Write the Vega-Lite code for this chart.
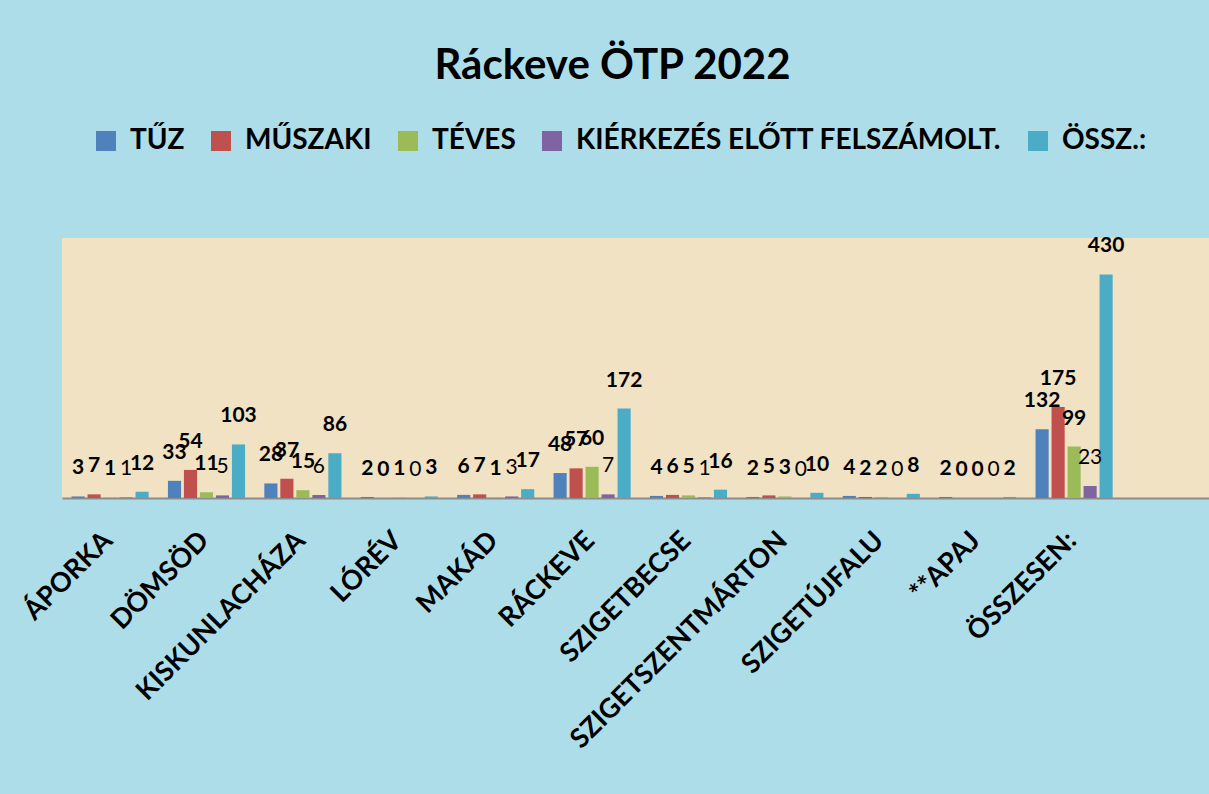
{
  "$schema": "https://vega.github.io/schema/vega-lite/v6.json",
  "width": 1147,
  "height": 260,
  "autosize": {"type": "none"},
  "padding": {"left": 62, "top": 238, "right": 0, "bottom": 296},
  "background": "#addde9",
  "title": {
    "text": "Ráckeve ÖTP 2022",
    "font": "Lato",
    "fontSize": 42,
    "fontWeight": "bold",
    "color": "#000000",
    "anchor": "middle",
    "baseline": "alphabetic",
    "dx": -23,
    "offset": 6
  },
  "config": {
    "view": {"fill": "#f0e2c3", "stroke": null},
    "font": "Lato"
  },
  "data": {
    "values": [
      {"city": "ÁPORKA", "series": "TŰZ", "value": 3},
      {"city": "ÁPORKA", "series": "MŰSZAKI", "value": 7},
      {"city": "ÁPORKA", "series": "TÉVES", "value": 1},
      {"city": "ÁPORKA", "series": "KIÉRKEZÉS ELŐTT FELSZÁMOLT.", "value": 1},
      {"city": "ÁPORKA", "series": "ÖSSZ.:", "value": 12},
      {"city": "DÖMSÖD", "series": "TŰZ", "value": 33},
      {"city": "DÖMSÖD", "series": "MŰSZAKI", "value": 54},
      {"city": "DÖMSÖD", "series": "TÉVES", "value": 11},
      {"city": "DÖMSÖD", "series": "KIÉRKEZÉS ELŐTT FELSZÁMOLT.", "value": 5},
      {"city": "DÖMSÖD", "series": "ÖSSZ.:", "value": 103},
      {"city": "KISKUNLACHÁZA", "series": "TŰZ", "value": 28},
      {"city": "KISKUNLACHÁZA", "series": "MŰSZAKI", "value": 37},
      {"city": "KISKUNLACHÁZA", "series": "TÉVES", "value": 15},
      {"city": "KISKUNLACHÁZA", "series": "KIÉRKEZÉS ELŐTT FELSZÁMOLT.", "value": 6},
      {"city": "KISKUNLACHÁZA", "series": "ÖSSZ.:", "value": 86},
      {"city": "LÓRÉV", "series": "TŰZ", "value": 2},
      {"city": "LÓRÉV", "series": "MŰSZAKI", "value": 0},
      {"city": "LÓRÉV", "series": "TÉVES", "value": 1},
      {"city": "LÓRÉV", "series": "KIÉRKEZÉS ELŐTT FELSZÁMOLT.", "value": 0},
      {"city": "LÓRÉV", "series": "ÖSSZ.:", "value": 3},
      {"city": "MAKÁD", "series": "TŰZ", "value": 6},
      {"city": "MAKÁD", "series": "MŰSZAKI", "value": 7},
      {"city": "MAKÁD", "series": "TÉVES", "value": 1},
      {"city": "MAKÁD", "series": "KIÉRKEZÉS ELŐTT FELSZÁMOLT.", "value": 3},
      {"city": "MAKÁD", "series": "ÖSSZ.:", "value": 17},
      {"city": "RÁCKEVE", "series": "TŰZ", "value": 48},
      {"city": "RÁCKEVE", "series": "MŰSZAKI", "value": 57},
      {"city": "RÁCKEVE", "series": "TÉVES", "value": 60},
      {"city": "RÁCKEVE", "series": "KIÉRKEZÉS ELŐTT FELSZÁMOLT.", "value": 7},
      {"city": "RÁCKEVE", "series": "ÖSSZ.:", "value": 172},
      {"city": "SZIGETBECSE", "series": "TŰZ", "value": 4},
      {"city": "SZIGETBECSE", "series": "MŰSZAKI", "value": 6},
      {"city": "SZIGETBECSE", "series": "TÉVES", "value": 5},
      {"city": "SZIGETBECSE", "series": "KIÉRKEZÉS ELŐTT FELSZÁMOLT.", "value": 1},
      {"city": "SZIGETBECSE", "series": "ÖSSZ.:", "value": 16},
      {"city": "SZIGETSZENTMÁRTON", "series": "TŰZ", "value": 2},
      {"city": "SZIGETSZENTMÁRTON", "series": "MŰSZAKI", "value": 5},
      {"city": "SZIGETSZENTMÁRTON", "series": "TÉVES", "value": 3},
      {"city": "SZIGETSZENTMÁRTON", "series": "KIÉRKEZÉS ELŐTT FELSZÁMOLT.", "value": 0},
      {"city": "SZIGETSZENTMÁRTON", "series": "ÖSSZ.:", "value": 10},
      {"city": "SZIGETÚJFALU", "series": "TŰZ", "value": 4},
      {"city": "SZIGETÚJFALU", "series": "MŰSZAKI", "value": 2},
      {"city": "SZIGETÚJFALU", "series": "TÉVES", "value": 2},
      {"city": "SZIGETÚJFALU", "series": "KIÉRKEZÉS ELŐTT FELSZÁMOLT.", "value": 0},
      {"city": "SZIGETÚJFALU", "series": "ÖSSZ.:", "value": 8},
      {"city": "**APAJ", "series": "TŰZ", "value": 2},
      {"city": "**APAJ", "series": "MŰSZAKI", "value": 0},
      {"city": "**APAJ", "series": "TÉVES", "value": 0},
      {"city": "**APAJ", "series": "KIÉRKEZÉS ELŐTT FELSZÁMOLT.", "value": 0},
      {"city": "**APAJ", "series": "ÖSSZ.:", "value": 2},
      {"city": "ÖSSZESEN:", "series": "TŰZ", "value": 132},
      {"city": "ÖSSZESEN:", "series": "MŰSZAKI", "value": 175},
      {"city": "ÖSSZESEN:", "series": "TÉVES", "value": 99},
      {"city": "ÖSSZESEN:", "series": "KIÉRKEZÉS ELŐTT FELSZÁMOLT.", "value": 23},
      {"city": "ÖSSZESEN:", "series": "ÖSSZ.:", "value": 430}
    ]
  },
  "encoding": {
    "x": {
      "field": "city",
      "type": "nominal",
      "sort": null,
      "scale": {"paddingInner": 0.2, "paddingOuter": 0.549, "align": 0.09},
      "axis": {
        "title": null,
        "labelAngle": -45,
        "labelFont": "Lato",
        "labelFontSize": 27,
        "labelFontWeight": "bold",
        "labelColor": "#000000",
        "labelPadding": 29,
        "labelOffset": -11,
        "labelLimit": 0,
        "ticks": false,
        "domainColor": "#8c8c8c",
        "domainWidth": 2,
        "grid": false
      }
    },
    "xOffset": {
      "field": "series",
      "type": "nominal",
      "sort": ["TŰZ", "MŰSZAKI", "TÉVES", "KIÉRKEZÉS ELŐTT FELSZÁMOLT.", "ÖSSZ.:"],
      "scale": {"paddingInner": 0.18}
    },
    "y": {
      "field": "value",
      "type": "quantitative",
      "scale": {"domain": [0, 500]},
      "axis": null
    }
  },
  "layer": [
    {
      "mark": {"type": "bar"},
      "encoding": {
        "color": {
          "field": "series",
          "type": "nominal",
          "scale": {
            "domain": ["TŰZ", "MŰSZAKI", "TÉVES", "KIÉRKEZÉS ELŐTT FELSZÁMOLT.", "ÖSSZ.:"],
            "range": ["#4f81bd", "#c0504d", "#9bbb59", "#8064a2", "#4bacc6"]
          },
          "legend": {
            "title": null,
            "orient": "none",
            "direction": "horizontal",
            "legendX": 30,
            "legendY": -111,
            "labelFont": "Lato",
            "labelFontSize": 28,
            "labelFontWeight": "bold",
            "labelColor": "#000000",
            "labelLimit": 0,
            "labelOffset": 10,
            "columnPadding": 22,
            "symbolType": "square",
            "symbolSize": 400,
            "symbolStrokeWidth": 0,
            "symbolOpacity": 1
          }
        }
      }
    },
    {
      "transform": [{"filter": "datum.series !== 'KIÉRKEZÉS ELŐTT FELSZÁMOLT.'"}],
      "mark": {"type": "text", "font": "Lato", "fontSize": 21, "fontWeight": "bold", "color": "#000000", "baseline": "alphabetic", "dy": -22},
      "encoding": {"text": {"field": "value", "type": "quantitative"}}
    },
    {
      "transform": [{"filter": "datum.series === 'KIÉRKEZÉS ELŐTT FELSZÁMOLT.'"}],
      "mark": {"type": "text", "font": "Lato", "fontSize": 21, "fontWeight": "normal", "color": "#000000", "baseline": "alphabetic", "dy": -22},
      "encoding": {"text": {"field": "value", "type": "quantitative"}}
    }
  ]
}
